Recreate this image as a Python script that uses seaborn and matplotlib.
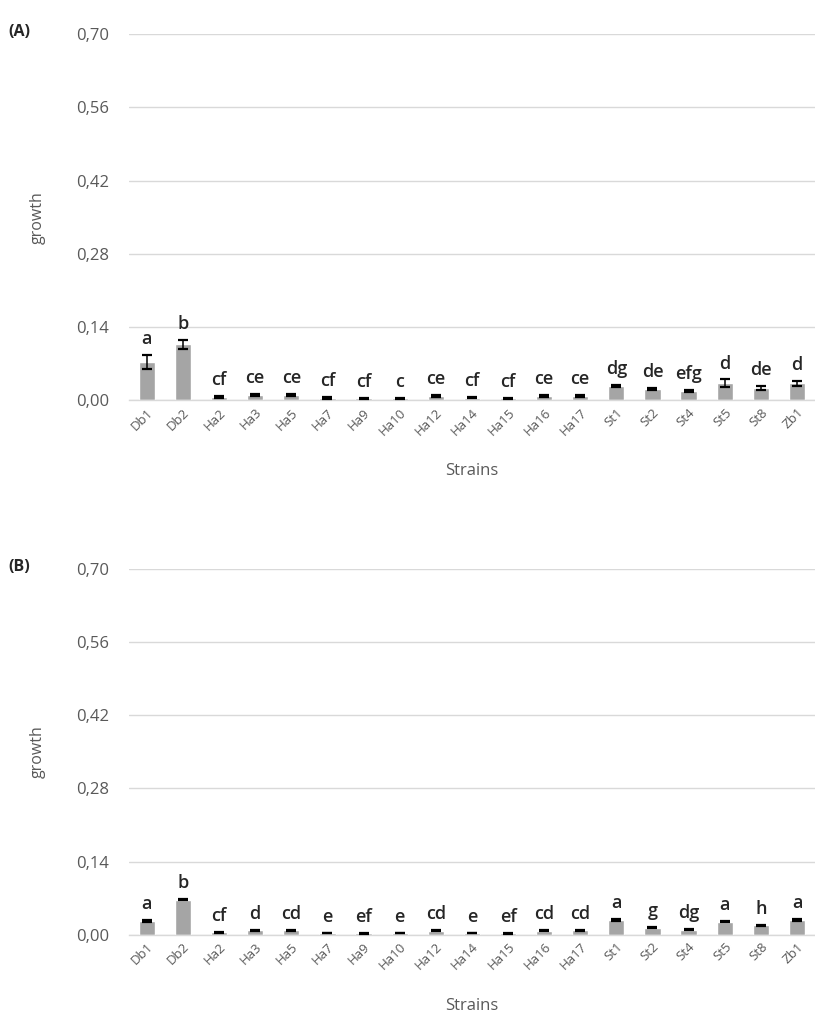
import pandas as pd
import matplotlib.pyplot as plt
import seaborn as sns

# Datos
strains = ['Db1', 'Db2', 'Ha2', 'Ha3', 'Ha5', 'Ha7', 'Ha9', 'Ha10', 'Ha12', 'Ha14',
           'Ha15', 'Ha16', 'Ha17', 'St1', 'St2', 'St4', 'St5', 'St8', 'Zb1']

growth_a = [0.073, 0.107, 0.007, 0.010, 0.010, 0.005, 0.004, 0.004, 0.009, 0.005,
            0.004, 0.009, 0.009, 0.028, 0.022, 0.018, 0.033, 0.024, 0.033]
err_a = [0.013, 0.009, 0.002, 0.002, 0.002, 0.002, 0.001, 0.001, 0.002, 0.001,
         0.001, 0.002, 0.002, 0.002, 0.002, 0.002, 0.007, 0.004, 0.005]
letters_a = ['a', 'b', 'cf', 'ce', 'ce', 'cf', 'cf', 'c', 'ce', 'cf',
             'cf', 'ce', 'ce', 'dg', 'de', 'efg', 'd', 'de', 'd']

growth_b = [0.026, 0.067, 0.005, 0.009, 0.009, 0.003, 0.003, 0.003, 0.008, 0.003,
            0.003, 0.008, 0.009, 0.028, 0.014, 0.010, 0.025, 0.019, 0.028]
err_b = [0.002, 0.001, 0.001, 0.001, 0.001, 0.0, 0.001, 0.0, 0.001, 0.0,
         0.001, 0.001, 0.001, 0.002, 0.001, 0.001, 0.001, 0.001, 0.002]
letters_b = ['a', 'b', 'cf', 'd', 'cd', 'e', 'ef', 'e', 'cd', 'e',
             'ef', 'cd', 'cd', 'a', 'g', 'dg', 'a', 'h', 'a']

yticks = [0.0, 0.14, 0.28, 0.42, 0.56, 0.70]

sns.set_theme(style="white")
plt.rcParams['font.family'] = ['Open Sans', 'DejaVu Sans']

fig = plt.figure(figsize=(8.15, 10.32), dpi=100)
ax_a = fig.add_axes([0.158, 0.612, 0.842, 0.355])
ax_b = fig.add_axes([0.158, 0.094, 0.842, 0.355])


def draw_panel(ax, values, errs, letters, tag):
    df = pd.DataFrame({'strain': strains, 'growth': values, 'err': errs})
    sns.barplot(data=df, x='strain', y='growth', color='#a5a5a5', saturation=1,
                width=0.45, errorbar=None, ax=ax, zorder=2)
    pos = range(len(strains))
    ax.errorbar(pos, df['growth'], yerr=df['err'], fmt='none', ecolor='black',
                elinewidth=1.1, capsize=3.5, capthick=1.6, zorder=3)
    for i, (v, e, t) in enumerate(zip(df['growth'], df['err'], letters)):
        ax.annotate(t, (i, v + e), xytext=(0, 5), textcoords='offset points',
                    ha='center', va='bottom', fontsize=13, fontweight='semibold',
                    color='#262626')
    ax.set_ylim(0, 0.70)
    ax.set_xlim(-0.5, len(strains) - 0.5)
    ax.set_yticks(yticks)
    ax.set_yticklabels([f'{t:.2f}'.replace('.', ',') for t in yticks],
                       fontsize=12, color='#595959')
    ax.tick_params(axis='y', length=0, pad=14)
    ax.tick_params(axis='x', length=0, pad=4)
    ax.set_xticks(list(pos))
    ax.set_xticklabels(strains, rotation=45, ha='right', rotation_mode='anchor',
                       fontsize=9.5, color='#595959')
    ax.grid(axis='y', color='#d9d9d9', linewidth=1, zorder=0)
    ax.set_axisbelow(True)
    for s in ['top', 'right', 'left']:
        ax.spines[s].set_visible(False)
    ax.spines['bottom'].set_color('#d9d9d9')
    ax.spines['bottom'].set_linewidth(1)
    ax.set_ylabel('growth', fontsize=11.5, color='#595959', labelpad=22)
    ax.set_xlabel('Strains', fontsize=12, color='#595959', labelpad=18)
    ax.text(-0.175, 1.005, tag, transform=ax.transAxes, fontsize=11.5,
            fontweight='bold', color='#262626', ha='left', va='center')


draw_panel(ax_a, growth_a, err_a, letters_a, '(A)')
draw_panel(ax_b, growth_b, err_b, letters_b, '(B)')

fig.savefig('out.png', dpi=100)
